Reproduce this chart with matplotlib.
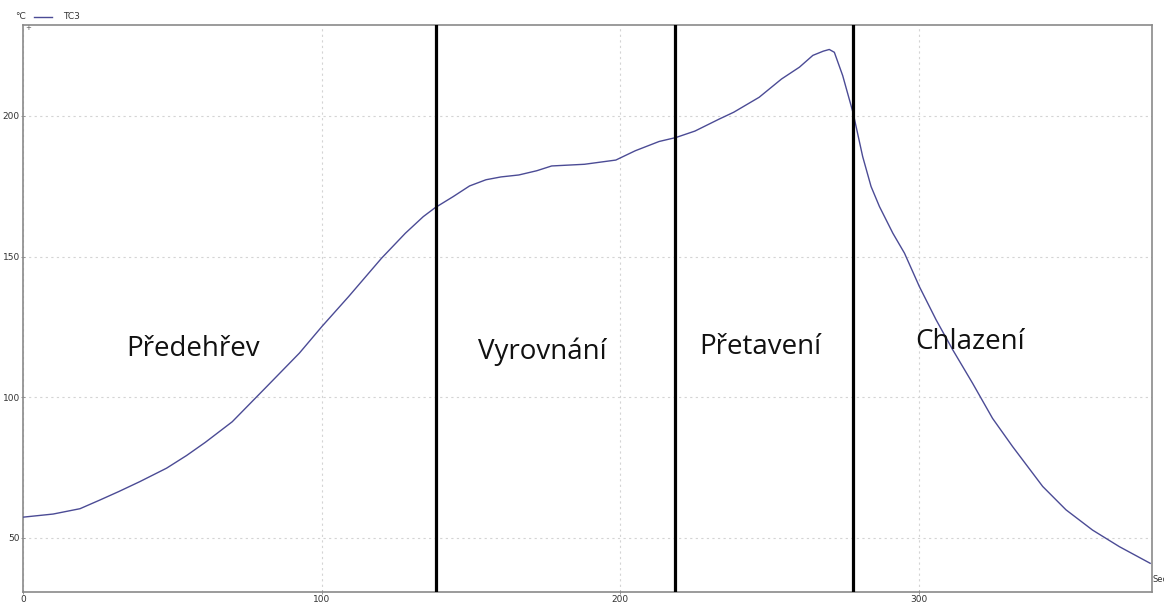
import matplotlib
matplotlib.use("Agg")
import matplotlib.pyplot as plt
from matplotlib.lines import Line2D

# ── Data ─────────────────────────────────────────────────────────────────────
time_s = [0, 10, 19, 25.7, 32, 39, 48, 54.7, 61, 70, 81, 92.5, 100, 109, 120,
          128, 134, 138, 144, 149.5, 155, 160, 166, 172, 177, 188, 198.5, 205,
          213, 218.6, 225, 233, 238, 246.5, 254, 260, 264.5, 268, 270, 271.7,
          274.5, 278, 281.2, 284, 286.8, 291.3, 295.2, 300.2, 305.8, 311.4,
          318, 324.7, 331.4, 341.5, 349.3, 358.2, 367.2, 377.5]
temp_c = [57.4, 58.5, 60.4, 63.5, 66.5, 70.0, 74.8, 79.3, 84.0, 91.3, 103.2,
          115.7, 125.1, 135.8, 149.4, 158.3, 164.2, 167.4, 171.3, 175.1, 177.3,
          178.3, 179.0, 180.5, 182.2, 182.8, 184.3, 187.6, 190.9, 192.3, 194.6,
          198.8, 201.3, 206.6, 213.1, 217.3, 221.5, 223.0, 223.6, 222.6, 214.3,
          201.0, 185.5, 174.9, 167.8, 158.3, 151.2, 139.3, 127.5, 116.8, 105.0,
          92.5, 82.5, 68.3, 60.0, 52.8, 46.9, 41.0]

zone_bounds = [138.2, 218.4, 278.0]
zone_names = ["Předehřev", "Vyrovnání", "Přetavení", "Chlazení"]
zone_label_x = [57, 174, 247, 317]
zone_label_y = [117.2, 116.3, 117.9, 119.7]

x_ticks = [0, 100, 200, 300]
y_ticks = [50, 100, 150, 200]

# ── Plot ─────────────────────────────────────────────────────────────────────
fig = plt.figure(figsize=(11.64, 6.05), dpi=100)
ax = fig.add_axes([0.020, 0.0215, 0.9694, 0.9372])

ax.plot(time_s, temp_c, color="#4b4b95", lw=1.0, zorder=3)
for xb in zone_bounds:
    ax.axvline(xb, color="black", lw=2.3, zorder=4)

for name, lx, ly in zip(zone_names, zone_label_x, zone_label_y):
    ax.text(lx, ly, name, fontsize=20, family="Open Sans",
            ha="center", va="center", color="#111111", zorder=5)

ax.set_xlim(0, 378)
ax.set_ylim(30.8, 232.3)
ax.set_xticks(x_ticks)
ax.set_yticks(y_ticks)
ax.grid(True, color="#d4d4d4", ls=(0, (2, 3)), lw=0.8)
ax.tick_params(labelsize=6.5, labelcolor="#333333", length=3, width=0.6,
               color="#888888", direction="inout", pad=1)
for sp in ax.spines.values():
    sp.set_color("#8a8a8a")
    sp.set_linewidth(1.2)

# header legend and axis units outside the plot area
fig.text(0.013, 0.972, "°C", fontsize=6.5, color="#333333", ha="left", va="center")
fig.text(0.0215, 0.953, "+", fontsize=5, color="#555555", ha="left", va="center")
fig.add_artist(Line2D([0.029, 0.045], [0.972, 0.972], color="#4b4b95", lw=1.0))
fig.text(0.054, 0.972, "TC3", fontsize=6.5, color="#333333", ha="left", va="center")
fig.text(0.9905, 0.042, "Sec", fontsize=6, color="#333333", ha="left", va="center")

fig.savefig("out.png", dpi=100)
